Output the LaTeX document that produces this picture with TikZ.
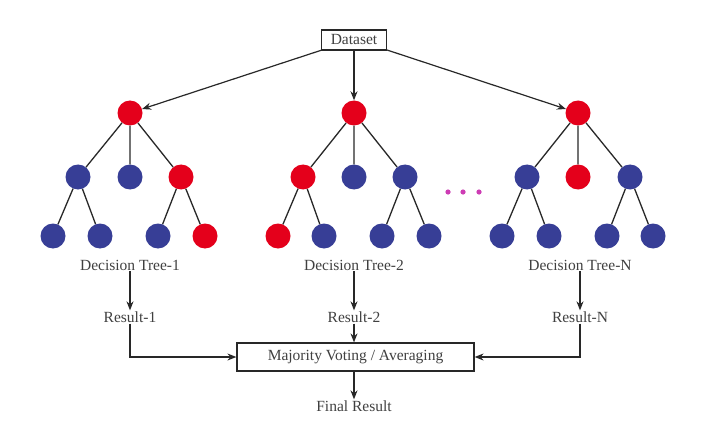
\documentclass[tikz,border=0pt]{standalone}
\usepackage{fontspec}
\setmainfont{Liberation Serif}
\usetikzlibrary{arrows.meta}
\definecolor{nred}{RGB}{228,0,27}
\definecolor{nblue}{RGB}{55,62,150}
\definecolor{dotc}{RGB}{205,60,180}
\definecolor{edgec}{RGB}{40,40,40}
\begin{document}
\begin{tikzpicture}[x=1pt,y=-1pt,
  rn/.style={circle,fill=nred,minimum size=25pt,inner sep=0pt},
  bn/.style={circle,fill=nblue,minimum size=25pt,inner sep=0pt},
  edge/.style={draw=edgec,line width=1.3pt},
  arr/.style={draw=edgec,line width=1.2pt,-{Stealth[length=9pt,width=7pt]}},
  lbl/.style={font=\fontsize{15.5}{18}\selectfont,text=black!75,inner sep=1pt},
  box/.style={draw=edgec,line width=1.2pt,font=\fontsize{15.5}{18}\selectfont,text=black!75}]
\fill[white] (0,0) rectangle (711,422);
\useasboundingbox (0,0) rectangle (711,422);

% Dataset
\node[box,minimum width=65pt,minimum height=20pt,inner sep=1pt] (ds) at (354,40) {Dataset};
\coordinate (dsl) at (322,50);
\coordinate (dsr) at (387,50);

% Tree 1
\node[rn] (a0) at (130,113) {};
\node[bn] (a1) at (78,177) {};
\node[bn] (a2) at (130,177) {};
\node[rn] (a3) at (181,177) {};
\node[bn] (a4) at (53,236) {};
\node[bn] (a5) at (100,236) {};
\node[bn] (a6) at (158,236) {};
\node[rn] (a7) at (205,236) {};
\draw[edge] (a0)--(a1) (a0)--(a2) (a0)--(a3) (a1)--(a4) (a1)--(a5) (a3)--(a6) (a3)--(a7);

% Tree 2
\node[rn] (b0) at (354,113) {};
\node[rn] (b1) at (303,177) {};
\node[bn] (b2) at (354,177) {};
\node[bn] (b3) at (405,177) {};
\node[rn] (b4) at (278,236) {};
\node[bn] (b5) at (324,236) {};
\node[bn] (b6) at (382,236) {};
\node[bn] (b7) at (429,236) {};
\draw[edge] (b0)--(b1) (b0)--(b2) (b0)--(b3) (b1)--(b4) (b1)--(b5) (b3)--(b6) (b3)--(b7);

% Tree N
\node[rn] (c0) at (578,113) {};
\node[bn] (c1) at (527,177) {};
\node[rn] (c2) at (578,177) {};
\node[bn] (c3) at (630,177) {};
\node[bn] (c4) at (502,236) {};
\node[bn] (c5) at (549,236) {};
\node[bn] (c6) at (607,236) {};
\node[bn] (c7) at (653,236) {};
\draw[edge] (c0)--(c1) (c0)--(c2) (c0)--(c3) (c1)--(c4) (c1)--(c5) (c3)--(c6) (c3)--(c7);

% dots
\foreach \x in {448,463,479} \fill[dotc] (\x,192) circle (2.6pt);

% Dataset arrows
\draw[arr] (dsl) -- (a0);
\draw[arr] (ds) -- (b0);
\draw[arr] (dsr) -- (c0);

% labels
\node[lbl] (t1) at (130,265) {Decision Tree-1};
\node[lbl] (t2) at (354,265) {Decision Tree-2};
\node[lbl] (t3) at (580,265) {Decision Tree-N};
\node[lbl] (r1) at (130,317) {Result-1};
\node[lbl] (r2) at (354,317) {Result-2};
\node[lbl] (r3) at (580,317) {Result-N};
\draw[arr] (t1) -- (r1);
\draw[arr] (t2) -- (r2);
\draw[arr] (t3) -- (r3);

\node[box,minimum width=237pt,minimum height=28pt,inner sep=2pt] (mv) at (355.5,357) {Majority Voting / Averaging};
\node[lbl] (fr) at (354,406) {Final Result};
\draw[arr] (r1) |- (mv);
\draw[arr] (r2.south) -- (r2.south |- mv.north);
\draw[arr] (r3) |- (mv);
\draw[arr] (fr.north |- mv.south) -- (fr.north);
\end{tikzpicture}
\end{document}
